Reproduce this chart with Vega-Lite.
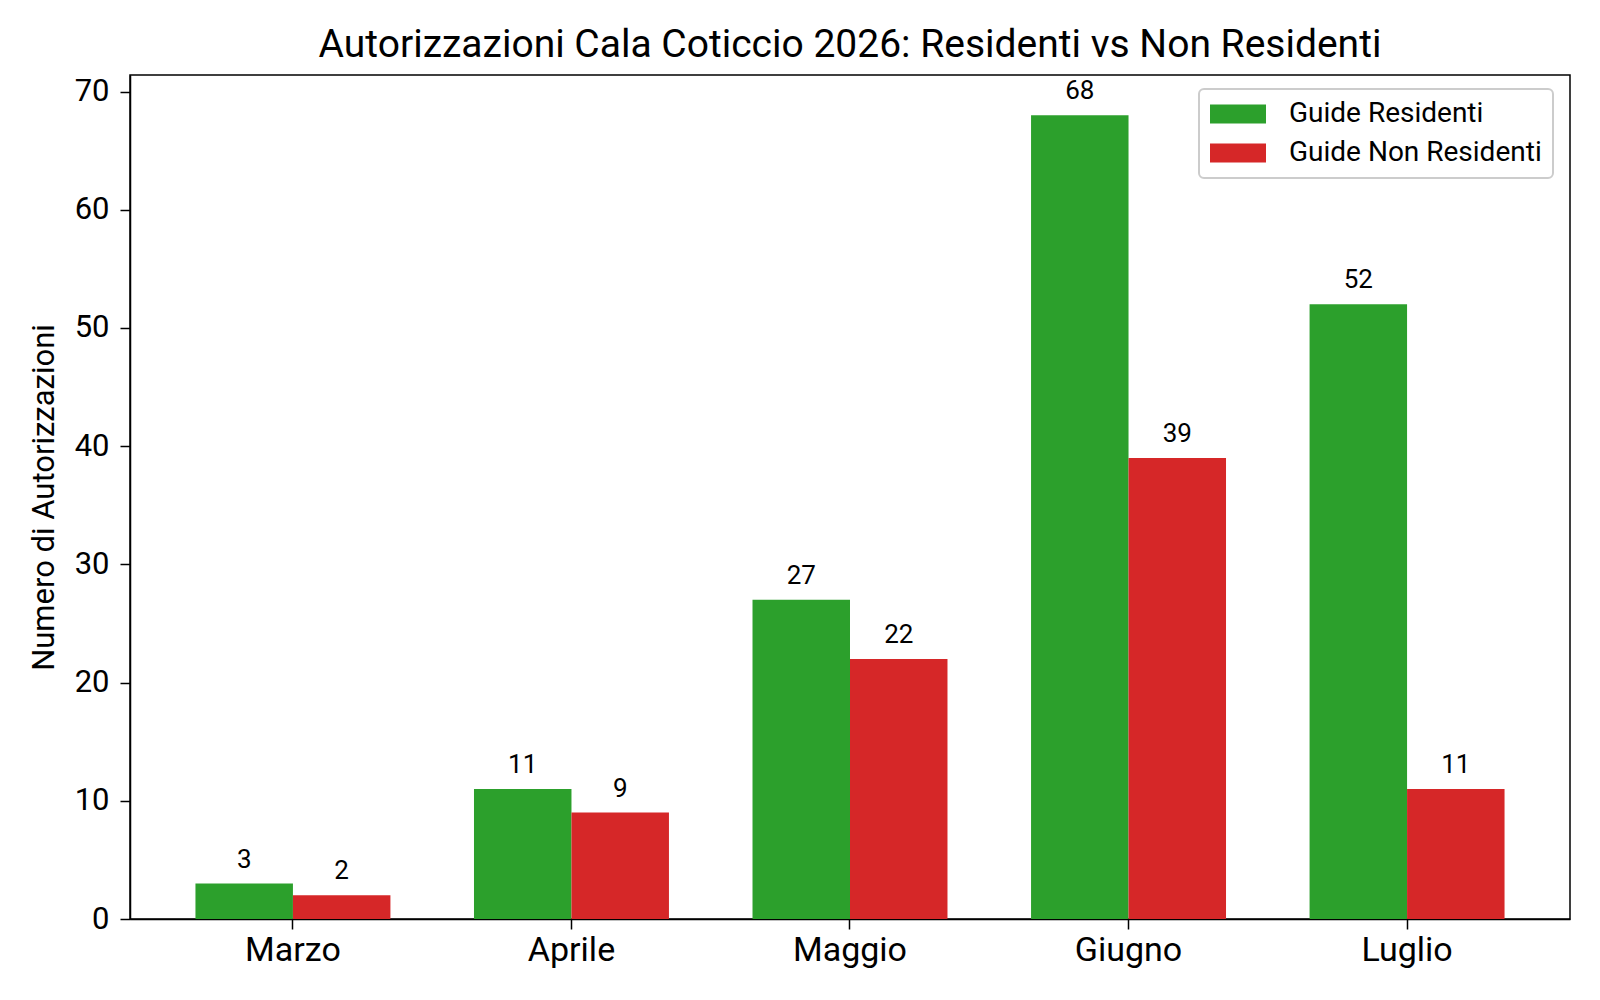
{
  "$schema": "https://vega.github.io/schema/vega-lite/v6.json",
  "autosize": "none",
  "width": 1440,
  "height": 844,
  "padding": {"left": 130, "top": 75, "right": 30, "bottom": 81},
  "background": "white",
  "title": {
    "text": "Autorizzazioni Cala Coticcio 2026: Residenti vs Non Residenti",
    "fontSize": 39,
    "fontWeight": "normal",
    "color": "black",
    "offset": 10
  },
  "data": {
    "values": [
      {"Mese": "Marzo", "Tipo": "Guide Residenti", "Valore": 3},
      {"Mese": "Marzo", "Tipo": "Guide Non Residenti", "Valore": 2},
      {"Mese": "Aprile", "Tipo": "Guide Residenti", "Valore": 11},
      {"Mese": "Aprile", "Tipo": "Guide Non Residenti", "Valore": 9},
      {"Mese": "Maggio", "Tipo": "Guide Residenti", "Valore": 27},
      {"Mese": "Maggio", "Tipo": "Guide Non Residenti", "Valore": 22},
      {"Mese": "Giugno", "Tipo": "Guide Residenti", "Valore": 68},
      {"Mese": "Giugno", "Tipo": "Guide Non Residenti", "Valore": 39},
      {"Mese": "Luglio", "Tipo": "Guide Residenti", "Valore": 52},
      {"Mese": "Luglio", "Tipo": "Guide Non Residenti", "Valore": 11}
    ]
  },
  "encoding": {
    "x": {
      "field": "Mese",
      "type": "nominal",
      "sort": ["Marzo", "Aprile", "Maggio", "Giugno", "Luglio"],
      "scale": {"paddingInner": 0.3, "paddingOuter": 0.235},
      "axis": {
        "title": null,
        "labelAngle": 0,
        "labelFontSize": 34,
        "labelColor": "black",
        "labelPadding": 4,
        "tickSize": 10,
        "tickColor": "black",
        "tickWidth": 1.5,
        "domainColor": "black",
        "domainWidth": 1.5
      }
    },
    "xOffset": {
      "field": "Tipo",
      "type": "nominal",
      "sort": ["Guide Residenti", "Guide Non Residenti"]
    },
    "y": {
      "field": "Valore",
      "type": "quantitative",
      "scale": {"domain": [0, 71.4], "nice": false},
      "axis": {
        "title": "Numero di Autorizzazioni",
        "titleFontSize": 31,
        "titleFontWeight": "normal",
        "titleColor": "black",
        "titlePadding": 14,
        "values": [0, 10, 20, 30, 40, 50, 60, 70],
        "grid": false,
        "labelFontSize": 31,
        "labelColor": "black",
        "labelPadding": 11,
        "tickSize": 10,
        "tickColor": "black",
        "tickWidth": 1.5,
        "domainColor": "black",
        "domainWidth": 1.5
      }
    }
  },
  "layer": [
    {
      "mark": {"type": "bar"},
      "encoding": {
        "color": {
          "field": "Tipo",
          "type": "nominal",
          "scale": {
            "domain": ["Guide Residenti", "Guide Non Residenti"],
            "range": ["#2ca02c", "#d62728"]
          },
          "legend": {
            "title": null,
            "orient": "none",
            "legendX": 1069,
            "legendY": 14,
            "fillColor": "white",
            "strokeColor": "#cccccc",
            "cornerRadius": 5,
            "padding": 11,
            "symbolType": "M-2,-0.68L2,-0.68L2,0.68L-2,0.68Z",
            "symbolSize": 784,
            "symbolOffset": 14,
            "symbolStrokeWidth": 0,
            "symbolOpacity": 1,
            "labelFontSize": 28,
            "labelColor": "black",
            "labelOffset": 37,
            "labelLimit": 500,
            "rowPadding": 11,
            "encode": {"legend": {"update": {"strokeWidth": {"value": 2}}}}
          }
        }
      }
    },
    {
      "mark": {"type": "text", "fontSize": 26, "color": "black", "baseline": "alphabetic", "dy": -16},
      "encoding": {
        "text": {"field": "Valore", "type": "quantitative"}
      }
    }
  ],
  "config": {
    "font": "Roboto",
    "view": {"stroke": "black", "strokeWidth": 1.5}
  }
}
